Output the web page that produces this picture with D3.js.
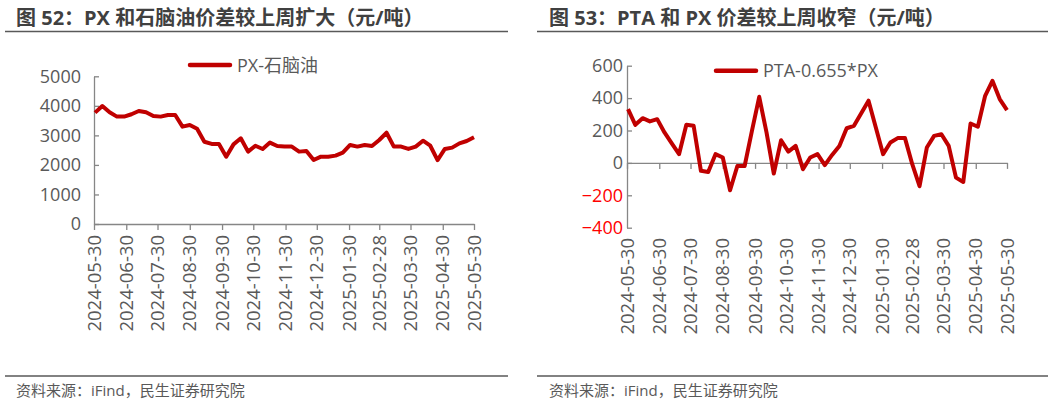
<!DOCTYPE html>
<html lang="zh-CN">
<head>
<meta charset="UTF-8">
<title>PX / PTA 价差</title>
<script src="https://d3js.org/d3.v7.min.js"></script>
<style>
  body { margin: 0; background: #fff; }
  text { font-family: "Open Sans", "Noto Sans CJK SC", sans-serif; }
</style>
</head>
<body>
<svg width="1048" height="406"></svg>
<script>
// weekly dates (Fridays)
const dates = [
  "2024-05-31","2024-06-07","2024-06-14","2024-06-21","2024-06-28",
  "2024-07-05","2024-07-12","2024-07-19","2024-07-26",
  "2024-08-02","2024-08-09","2024-08-16","2024-08-23","2024-08-30",
  "2024-09-06","2024-09-13","2024-09-20","2024-09-27",
  "2024-10-04","2024-10-11","2024-10-18","2024-10-25",
  "2024-11-01","2024-11-08","2024-11-15","2024-11-22","2024-11-29",
  "2024-12-06","2024-12-13","2024-12-20","2024-12-27",
  "2025-01-03","2025-01-10","2025-01-17","2025-01-24","2025-01-31",
  "2025-02-07","2025-02-14","2025-02-21","2025-02-28",
  "2025-03-07","2025-03-14","2025-03-21","2025-03-28",
  "2025-04-04","2025-04-11","2025-04-18","2025-04-25",
  "2025-05-02","2025-05-09","2025-05-16","2025-05-23","2025-05-30"
];

// PX-石脑油 (元/吨)
const pxNaphtha = [
  3770, 3995, 3780, 3635, 3635, 3715, 3825, 3780, 3655,
  3635, 3690, 3690, 3295, 3350, 3225, 2785, 2710, 2710,
  2280, 2695, 2900, 2450, 2650, 2540, 2755, 2640, 2620,
  2620, 2450, 2470, 2165, 2280, 2280, 2315, 2415, 2675,
  2620, 2675, 2640, 2845, 3090, 2620, 2620, 2540, 2620,
  2820, 2650, 2165, 2540, 2585, 2730, 2810, 2935
];

// PTA-0.655*PX (元/吨)
const ptaPx = [
  332, 235, 276, 256, 270, 188, 120, 54, 235,
  229, -49, -56, 54, 33, -169, -19, -19, 198,
  408, 188, -66, 140, 70, 105, -39, 33, 54,
  -14, 49, 105, 214, 229, 307, 384, 219, 54,
  126, 153, 153, -8, -144, 95, 167, 177, 105,
  -91, -118, 243, 223, 414, 507, 394, 326
];

const xTickLabels = [
  "2024-05-30","2024-06-30","2024-07-30","2024-08-30","2024-09-30",
  "2024-10-30","2024-11-30","2024-12-30","2025-01-30","2025-02-28",
  "2025-03-30","2025-04-30","2025-05-30"
];
const leftTicks = [0, 1000, 2000, 3000, 4000, 5000];
const rightTicks = [-400, -200, 0, 200, 400, 600];

const parse = d3.timeParse("%Y-%m-%d");
const svg = d3.select("svg");
const red = "#c00000";
const axisColor = "#868686";
const textColor = "#595959";

function panel(cfg) {
  const g = svg.append("g");

  // title + rules
  g.append("text")
    .attr("x", cfg.titleX).attr("y", 25)
    .attr("font-size", 20).attr("font-weight", "bold")
    .attr("fill", "#404040")
    .text(cfg.title);
  g.append("line")
    .attr("x1", cfg.ruleX0).attr("x2", cfg.ruleX1)
    .attr("y1", 31.5).attr("y2", 31.5)
    .attr("stroke", "#595959").attr("stroke-width", 1.5);
  g.append("line")
    .attr("x1", cfg.ruleX0).attr("x2", cfg.ruleX1)
    .attr("y1", 376).attr("y2", 376)
    .attr("stroke", "#595959").attr("stroke-width", 1.5);
  g.append("text")
    .attr("x", cfg.titleX).attr("y", 396)
    .attr("font-size", 15).attr("fill", textColor)
    .text("资料来源：iFind，民生证券研究院");

  const x = d3.scaleTime()
    .domain([parse(xTickLabels[0]), parse(xTickLabels[xTickLabels.length - 1])])
    .range(cfg.xRange);
  const y = d3.scaleLinear().domain(cfg.yDomain).range(cfg.yRange);

  // y axis
  const ya = g.append("g")
    .attr("transform", `translate(${cfg.xRange[0]},0)`)
    .call(d3.axisLeft(y).tickValues(cfg.yTicks).tickSizeInner(-5).tickSizeOuter(0)
      .tickPadding(cfg.yPad).tickFormat(d3.format("d")));
  ya.select(".domain").attr("stroke", axisColor).attr("stroke-width", 1.3);
  ya.selectAll(".tick line").attr("stroke", axisColor).attr("stroke-width", 1.3);
  ya.selectAll(".tick text")
    .attr("font-size", 18)
    .attr("font-family", "'Open Sans', sans-serif")
    .attr("fill", d => d < 0 ? "#ff0000" : textColor);

  // x axis at zero
  const xa = g.append("g")
    .attr("transform", `translate(0,${y(0)})`)
    .call(d3.axisBottom(x).tickValues(xTickLabels.map(parse)).tickSizeInner(6)
      .tickSizeOuter(0).tickFormat(""));
  xa.select(".domain").attr("stroke", axisColor).attr("stroke-width", 1.3);
  xa.selectAll(".tick line").attr("stroke", axisColor).attr("stroke-width", 1.3);

  // rotated date labels
  g.selectAll(".xl").data(xTickLabels).join("text")
    .attr("class", "xl")
    .attr("transform", d => `translate(${x(parse(d))},${cfg.labelTop}) rotate(-90)`)
    .attr("text-anchor", "end")
    .attr("dy", "0.36em")
    .attr("font-size", 18.5)
    .attr("fill", textColor)
    .text(d => d);

  // series line
  const line = d3.line()
    .x((d, i) => x(parse(dates[i])))
    .y(d => y(d));
  g.append("path")
    .datum(cfg.values)
    .attr("d", line)
    .attr("fill", "none")
    .attr("stroke", red)
    .attr("stroke-width", 4)
    .attr("stroke-linejoin", "round");

  // legend
  g.append("line")
    .attr("x1", cfg.legend[0]).attr("x2", cfg.legend[0] + 40)
    .attr("y1", cfg.legend[1]).attr("y2", cfg.legend[1])
    .attr("stroke", red).attr("stroke-width", 4.5).attr("stroke-linecap", "round");
  g.append("text")
    .attr("x", cfg.legend[0] + 47).attr("y", cfg.legend[1] + 6.5)
    .attr("font-size", 18).attr("fill", textColor)
    .text(cfg.name);
}

panel({
  title: "图 52：PX 和石脑油价差较上周扩大（元/吨）",
  name: "PX-石脑油",
  values: pxNaphtha,
  titleX: 16, ruleX0: 5, ruleX1: 508,
  xRange: [94, 474], yRange: [224, 76.3], yDomain: [0, 5000],
  yTicks: leftTicks, yPad: 13, labelTop: 235,
  legend: [190, 65]
});

panel({
  title: "图 53：PTA 和 PX 价差较上周收窄（元/吨）",
  name: "PTA-0.655*PX",
  values: ptaPx,
  titleX: 549, ruleX0: 537, ruleX1: 1048,
  xRange: [627, 1007], yRange: [227.7, 65.7], yDomain: [-400, 600],
  yTicks: rightTicks, yPad: 4, labelTop: 238,
  legend: [716, 70.7]
});
</script>
</body>
</html>
